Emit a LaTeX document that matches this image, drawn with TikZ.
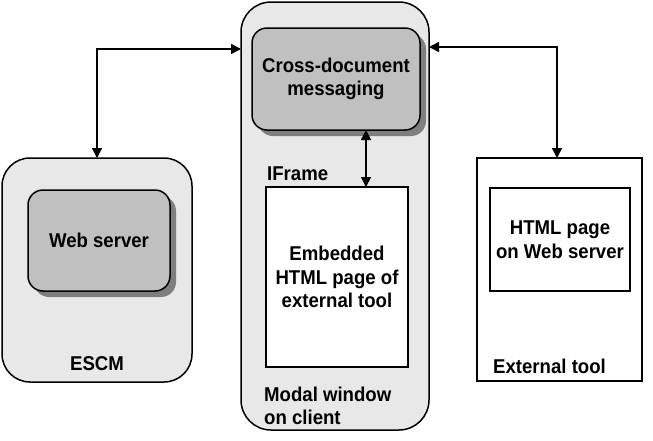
\documentclass[tikz,border=0pt]{standalone}
\usepackage{fontspec}
\setmainfont{Liberation Sans}[FakeStretch=0.93]
\usetikzlibrary{arrows.meta,shadows}
\definecolor{outerfill}{HTML}{E8E8E8}
\definecolor{innerfill}{HTML}{C0C0C0}
\definecolor{shadowc}{HTML}{7F7F7F}
\begin{document}
\begin{tikzpicture}[x=1pt,y=-1pt,
  font=\fontsize{20}{23.5}\selectfont\bfseries,
  outerbox/.style={draw, line width=1.5pt, fill=outerfill, rounded corners=28pt,
    anchor=north west, inner sep=0pt, outer sep=0pt},
  innerbox/.style={draw, line width=1.5pt, fill=innerfill, rounded corners=15pt,
    anchor=north west, inner sep=0pt, outer sep=0pt, align=center,
    drop shadow={shadow xshift=6pt, shadow yshift=-6pt, fill=shadowc, opacity=1}},
  whitebox/.style={draw, line width=1.5pt, fill=white, anchor=north west,
    inner sep=0pt, outer sep=0pt, align=center},
  lbl/.style={inner sep=0pt, align=left},
  arr/.style={line width=1.5pt, {Triangle[length=10pt,width=10pt]}-{Triangle[length=10pt,width=10pt]}}]
\useasboundingbox (0,0) rectangle (653,440);

% ESCM
\node[outerbox, minimum width=190pt, minimum height=224pt] (escm) at (2,158) {};
\node[innerbox, minimum width=142pt, minimum height=101pt] (web) at (28,190) {Web server};
\node[lbl] (escmlbl) at (97,364) {ESCM};

% Modal window
\node[outerbox, rounded corners=30pt, minimum width=188pt, minimum height=428pt] (modal) at (241,2) {};
\node[innerbox, minimum width=168pt, minimum height=102pt] (cross) at (252,28) {Cross-document\\messaging};
\node[lbl, anchor=west] (iframe) at (267,174) {IFrame};
\node[whitebox, minimum width=142pt, minimum height=180pt] (embed) at (266,187) {Embedded\\HTML page of\\external tool};
\node[lbl, anchor=west] (modallbl) at (264,406) {Modal window\\on client};

% External tool
\node[whitebox, minimum width=165pt, minimum height=223pt] (ext) at (477,158) {};
\node[whitebox, minimum width=140pt, minimum height=103pt] (html) at (490,188) {HTML page\\on Web server};
\node[lbl, anchor=west] (extlbl) at (493,366) {External tool};

% connectors
\draw[arr] (escm.north) |- (modal.west |- 0,49);
\draw[arr] (cross.south -| 366,0) -- (embed.north -| 366,0);
\draw[arr] (modal.east |- 0,47) -| (ext.north -| 557,0);
\end{tikzpicture}
\end{document}
